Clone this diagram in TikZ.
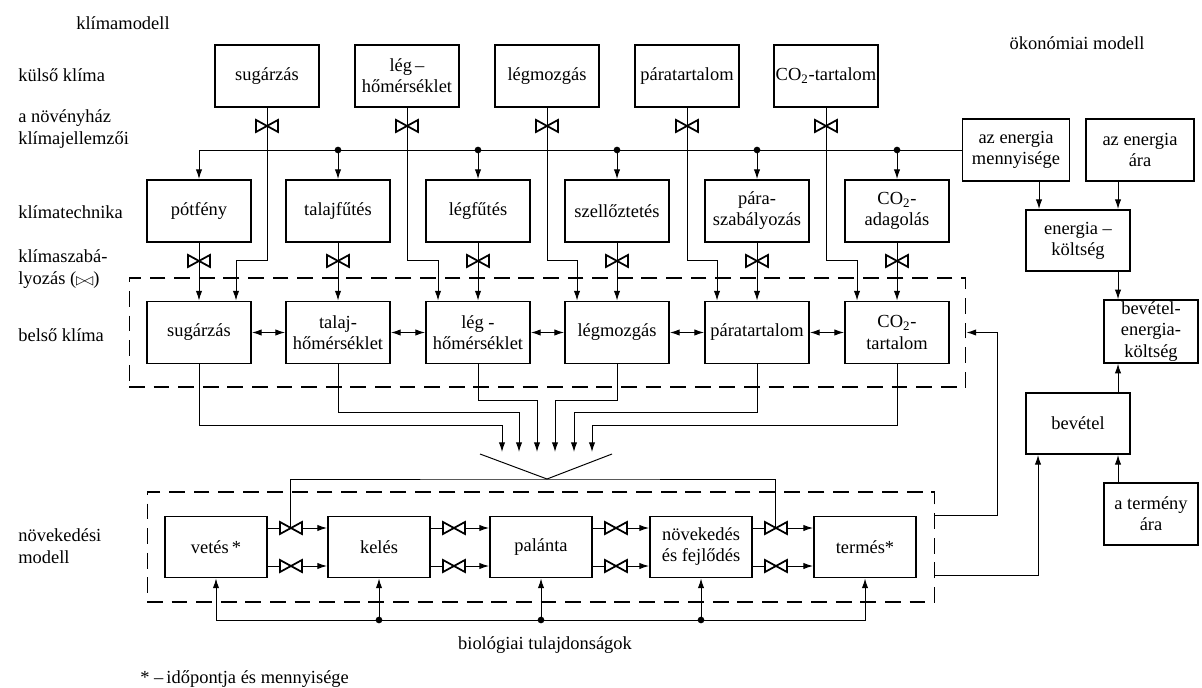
\documentclass[tikz,border=0pt]{standalone}
\usepackage{fontspec}
\setmainfont{Liberation Serif}
\newfontfamily\symfont{DejaVu Sans}
\usetikzlibrary{arrows.meta,calc}
\tikzset{
  >={Latex[length=5.5pt,width=3.6pt]},
  box/.style={draw,line width=1.1pt,minimum width=2.08cm,minimum height=1.24cm,
    align=center,inner sep=1pt,font=\fontsize{10.5}{12}\selectfont},
  dashbox/.style={draw,line width=0.6pt,dash pattern=on 9pt off 5pt,inner sep=0pt},
  lbl/.style={align=left,inner sep=0pt,font=\fontsize{10.5}{12.5}\selectfont},
  conn/.style={line width=0.55pt},
  valve/.pic={\draw[fill=white,line width=1pt,line join=miter] (-11,-6) -- (11,6) -- (11,-6) -- (-11,6) -- cycle;}
}
\begin{document}
\begin{tikzpicture}[x=0.02cm,y=-0.02cm]
  \useasboundingbox (0,0) rectangle (1202,688);
  \node[lbl] (klm) at (123,23) {klímamodell};
  \node[lbl] (okm) at (1077,43) {ökonómiai modell};
  \node[lbl,anchor=west] (kk) at (18,75) {külső klíma};
  \node[lbl,anchor=west] (nh) at (18,129) {a növényház\\klímajellemzői};
  \node[lbl,anchor=west] (kt) at (18,212) {klímatechnika};
  \node[lbl,anchor=west] (ksz) at (18,269) {klímaszabá-\\lyozás ({\symfont\scriptsize ▷\kern-0.15em◁})};
  \node[lbl,anchor=west] (bk) at (18,335) {belső klíma};
  \node[lbl,anchor=west] (nm) at (18,546) {növekedési\\modell};
  \node[lbl,anchor=west] (fn) at (140,679) {* –\,időpontja és mennyisége};
  \node[lbl] (bio) at (545,645) {biológiai tulajdonságok};

  \node[dashbox,minimum width=16.74cm,minimum height=2.18cm] (inner) at (547.5,332.5) {};
  \node[dashbox,minimum width=15.76cm,minimum height=2.2cm] (grow) at (541,547) {};

  \node[box] (ks1) at (267,76) {sugárzás};
  \node[box] (ks2) at (407,76) {lég\,–\\hőmérséklet};
  \node[box] (ks3) at (547,76) {légmozgás};
  \node[box] (ks4) at (687,76) {páratartalom};
  \node[box] (ks5) at (826,76) {CO\textsubscript{2}-tartalom};

  \node[box] (t1) at (199,211) {pótfény};
  \node[box] (t2) at (338,211) {talajfűtés};
  \node[box] (t3) at (478,211) {légfűtés};
  \node[box] (t4) at (617,211) {szellőztetés};
  \node[box] (t5) at (757,211) {pára-\\szabályozás};
  \node[box] (t6) at (897,211) {CO\textsubscript{2}-\\adagolás};

  \node[box] (b1) at (199,332.5) {sugárzás};
  \node[box] (b2) at (338,332.5) {talaj-\\hőmérséklet};
  \node[box] (b3) at (478,332.5) {lég -\\hőmérséklet};
  \node[box] (b4) at (617,332.5) {légmozgás};
  \node[box] (b5) at (757,332.5) {páratartalom};
  \node[box] (b6) at (897,332.5) {CO\textsubscript{2}-\\tartalom};

  \node[box,minimum width=2.04cm,minimum height=1.22cm] (g1) at (216,547) {vetés\,*};
  \node[box,minimum width=2.04cm,minimum height=1.22cm] (g2) at (379,547) {kelés};
  \node[box,minimum width=2.04cm,minimum height=1.22cm] (g3) at (541,547) {palánta};
  \node[box,minimum width=2.04cm,minimum height=1.22cm] (g4) at (701,547) {növekedés\\és fejlődés};
  \node[box,minimum width=2.04cm,minimum height=1.22cm] (g5) at (865,547) {termés*};

  \node[box,minimum width=2.14cm] (menny) at (1016,150) {az energia\\mennyisége};
  \node[box,minimum width=2.16cm] (ara) at (1140,150) {az energia\\ára};
  \node[box,minimum height=1.22cm] (ek) at (1078,240.5) {energia –\\költség};
  \node[box,minimum width=1.88cm,minimum height=1.22cm] (bek) at (1151,331.5) {bevétel-\\energia-\\költség};
  \node[box,minimum height=1.22cm] (bev) at (1078,423.5) {bevétel};
  \node[box,minimum width=1.88cm] (tara) at (1151,514) {a termény\\ára};

  \begin{scope}[conn]
    \draw[->] (menny.west) -| (t1.north);
    \foreach \i in {2,...,6} {
      \fill (t\i.north |- menny.west) circle (1.9pt);
      \draw[->] (t\i.north |- menny.west) -- (t\i.north);
    }
    \draw[->] (ks1.south) -- ++(0,153) -| ($(b1.north)+(37,0)$);
    \draw[->] (ks2.south) -- ++(0,153) -| ($(b3.north)+(-40,0)$);
    \draw[->] (ks3.south) -- ++(0,153) -| ($(b4.north)+(-40,0)$);
    \draw[->] (ks4.south) -- ++(0,153) -| ($(b5.north)+(-40,0)$);
    \draw[->] (ks5.south) -- ++(0,153) -| ($(b6.north)+(-40,0)$);
    \foreach \i in {1,...,5}
      \pic at ($(ks\i.south)+(0,18)$) {valve};
    \foreach \i in {1,...,6} {
      \draw[->] (t\i) -- (b\i);
      \pic at ($(t\i.south)+(0,18)$) {valve};
    }
    \draw[<->] (b1) -- (b2);
    \draw[<->] (b2) -- (b3);
    \draw[<->] (b3) -- (b4);
    \draw[<->] (b4) -- (b5);
    \draw[<->] (b5) -- (b6);

    \coordinate (f1) at (502,452);
    \coordinate (f2) at (519,452);
    \coordinate (f3) at (537,452);
    \coordinate (f4) at (555,452);
    \coordinate (f5) at (574,452);
    \coordinate (f6) at (592,452);
    \draw[->] (b1.south) -- ++(0,61) -| (f1);
    \draw[->] (b2.south) -- ++(0,48) -| (f2);
    \draw[->] (b3.south) -- ++(0,36) -| (f3);
    \draw[->] (b4.south) -- ++(0,36) -| (f4);
    \draw[->] (b5.south) -- ++(0,48) -| (f5);
    \draw[->] (b6.south) -- ++(0,61) -| (f6);

    \coordinate (fl) at (480,454);
    \coordinate (apex) at (547,479);
    \coordinate (fr) at (612,454);
    \draw (fl) -- (apex) -- (fr);
    \coordinate (vl) at ($(g1.east)+(23,-19)$);
    \coordinate (vr) at ($(g4.east)+(23,-19)$);
    \draw (vl) |- (apex) -| (vr);

    \foreach \a/\b in {g1/g2,g2/g3,g3/g4,g4/g5} {
      \foreach \s in {-19,19} {
        \draw[->] ($(\a.east)+(0,\s)$) -- ($(\b.west)+(0,\s)$);
        \pic at ($(\a.east)+(23,\s)$) {valve};
      }
    }

    \draw[<->] (g1.south) |- (g5.south |- 0,620) -- (g5.south);
    \foreach \i in {2,3,4} {
      \fill (g\i.south |- 0,620) circle (1.9pt);
      \draw[->] (g\i.south |- 0,620) -- (g\i.south);
    }

    \draw[->] (grow.east |- 0,515) -- ++(62,0) |- (inner.east);
    \draw[->] (grow.east |- 0,575) -| ($(bev.south)+(-40,0)$);

    \draw[->] ($(menny.south)+(23,0)$) -- ($(ek.north)+(-39,0)$);
    \draw[->] ($(ara.south)+(-22,0)$) -- ($(ek.north)+(40,0)$);
    \draw[->] ($(ek.south)+(40,0)$) -- ($(bek.north)+(-33,0)$);
    \draw[->] ($(bev.north)+(40,0)$) -- ($(bek.south)+(-33,0)$);
    \draw[->] ($(tara.north)+(-33,0)$) -- ($(bev.south)+(40,0)$);
  \end{scope}
\end{tikzpicture}
\end{document}
